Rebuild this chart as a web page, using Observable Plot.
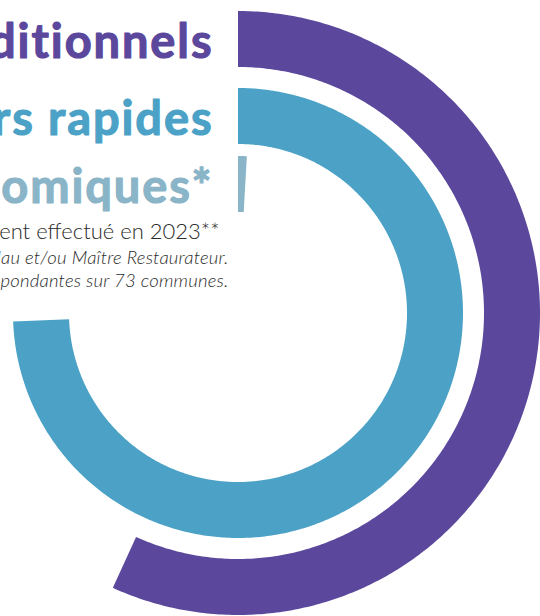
<!DOCTYPE html>
<html>
<head>
<meta charset="utf-8">
<script src="https://cdn.jsdelivr.net/npm/d3@7"></script>
<script src="https://cdn.jsdelivr.net/npm/@observablehq/plot@0.6"></script>
<style>
  html, body { margin: 0; padding: 0; background: #fff; }
  #chart { width: 540px; height: 616px; overflow: hidden; }
</style>
</head>
<body>
<div id="chart"></div>
<script>
// ---- data ----
const categories = ["Restaurants traditionnels", "Restaurateurs rapides", "Restaurants gastronomiques*"];
const values = [56.8, 74.4, 0.9];          // share of a full turn, in %
const colors = ["#5b479c", "#4ba2c6", "#8ab4c7"];
const notes = [
  "Part des contrôles par type d'établissement effectué en 2023**",
  "*Établissements labellisés Gault & Millau et/ou Maître Restaurateur.",
  "**Données correspondantes sur 73 communes."
];

// ---- layout ----
const W = 540, H = 616;
const cx = 238, cy = 313;              // ring centre in px
const outerR = 302, ringW = 56, gaps = [21, 12];
const rings = [];
let r = outerR;
categories.forEach((c, i) => {
  rings.push({cat: c, rOut: r, rIn: r - ringW, mid: r - ringW / 2});
  r -= ringW + (gaps[i] || 0);
});

// arc outline built from each value
const arcs = [];
categories.forEach((c, i) => {
  const end = values[i] / 100 * 2 * Math.PI;
  const n = Math.max(4, Math.ceil(values[i] * 6));
  for (let k = 0; k <= n; k++) {
    const a = end * k / n;
    arcs.push({
      cat: c,
      xo: rings[i].rOut * Math.sin(a), yo: rings[i].rOut * Math.cos(a),
      xi: rings[i].rIn * Math.sin(a), yi: rings[i].rIn * Math.cos(a)
    });
  }
});

const chart = Plot.plot({
  width: W, height: H,
  margin: 0,
  x: {domain: [-cx, W - cx], range: [0, W], axis: null},
  y: {domain: [-(H - cy), cy], range: [H, 0], axis: null},
  color: {domain: categories, range: colors},
  style: {background: "#fff", overflow: "hidden"},
  marks: [
    Plot.area(arcs, {x1: "xo", y1: "yo", x2: "xi", y2: "yi", z: "cat", fill: "cat", curve: "linear"}),
    Plot.text(rings, {
      x: 0, y: "mid", text: "cat", fill: "cat", stroke: "cat", strokeWidth: 1.1,
      textAnchor: "end", lineAnchor: "middle", dx: -25, dy: 3,
      fontSize: 47, fontWeight: 700, fontFamily: "Lato, 'Open Sans', sans-serif",
      className: "ring-label"
    }),
    Plot.text([notes[0]], {
      frameAnchor: "top-left", dx: 219, dy: 238, text: d => d,
      textAnchor: "end", lineAnchor: "bottom",
      fontSize: 22, fontWeight: 300, fill: "#2b2b2b", fontFamily: "Lato, sans-serif"
    }),
    Plot.text(notes.slice(1), {
      frameAnchor: "top-left", dx: 228, dy: 0, text: d => d,
      textAnchor: "end", lineAnchor: "bottom",
      fontSize: 18.5, fontStyle: "italic", fontWeight: 300, fill: "#2b2b2b", fontFamily: "Lato, sans-serif",
      className: "note-lines"
    })
  ]
});
document.getElementById("chart").appendChild(chart);

d3.select(chart).selectAll(".ring-label text").style("letter-spacing", "1.9px");
d3.select(chart).selectAll(".note-lines text")
  .style("letter-spacing", "0.2px")
  .attr("transform", (d, i) => `translate(0,${263 + i * 23})`);
</script>
</body>
</html>
